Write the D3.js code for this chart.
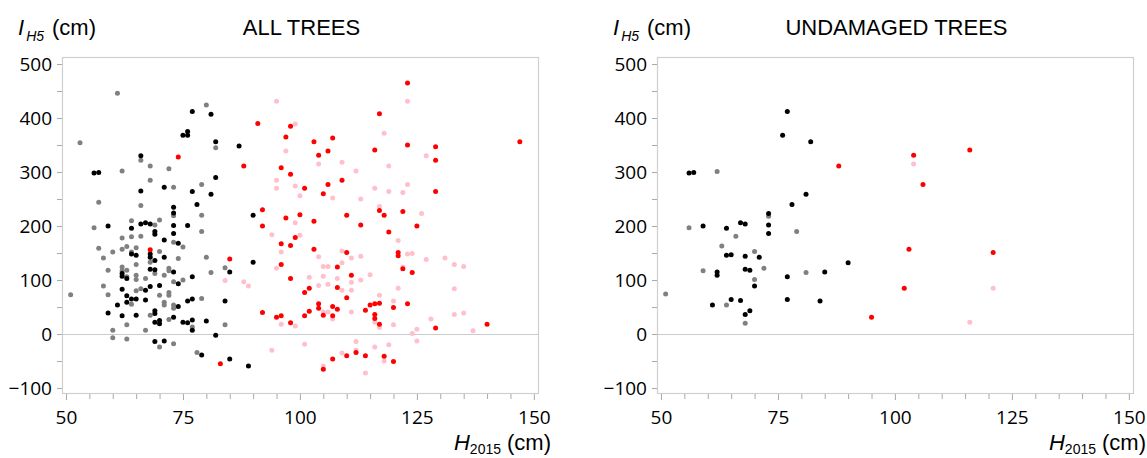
<!DOCTYPE html>
<html>
<head>
<meta charset="utf-8">
<script src="https://cdn.jsdelivr.net/npm/d3@7"></script>
<style>
  html, body { margin: 0; padding: 0; background: #fff; }
  svg { display: block; }
</style>
</head>
<body>
<svg id="chart" width="1147" height="458"></svg>
<script>
// ---------- DATA ----------
const xTicks = [50, 75, 100, 125, 150];
const yTicks = [-100, 0, 100, 200, 300, 400, 500];
const panelTitles = ["ALL TREES", "UNDAMAGED TREES"];

// ALL TREES: [H2015, IH5]
const allBlack = [[77,412],[81,407],[76,375],[75,368],[76,368],[82,356],[87,348],[66,330],[56,298],[57,299],[82,290],[71,272],[66,265],[77,264],[81,259],[73,235],[78,240],[73,224],[66,204],[67,206],[68,204],[73,201],[76,201],[59,200],[64,196],[69,190],[69,185],[73,186],[71,174],[74,168],[68,148],[68,142],[64,148],[65,146],[71,142],[69,136],[85,115],[62,112],[62,107],[63,103],[68,120],[69,119],[73,115],[77,106],[74,93],[62,83],[68,88],[67,81],[70,90],[63,71],[64,65],[65,65],[63,59],[61,54],[67,63],[76,61],[77,65],[84,61],[74,51],[69,43],[69,38],[59,39],[62,34],[65,35],[73,31],[70,25],[70,19],[69,22],[75,22],[76,21],[77,26],[77,7],[80,24],[69,-14],[71,-13],[82,-2],[79,-39],[85,-46],[90,220],[90,133],[89,-59]];
const allGray = [[61,446],[80,424],[82,345],[53,354],[66,322],[68,311],[72,306],[62,302],[68,285],[73,272],[79,277],[57,244],[66,238],[73,219],[79,220],[64,210],[70,211],[69,202],[56,197],[79,190],[62,178],[64,180],[66,181],[73,170],[75,161],[57,159],[60,152],[62,157],[63,162],[64,152],[65,160],[70,153],[58,141],[68,133],[74,140],[65,129],[80,142],[84,123],[59,118],[62,124],[62,117],[63,118],[63,106],[65,109],[65,101],[69,112],[67,103],[71,109],[72,122],[72,117],[75,100],[73,97],[81,114],[58,89],[66,84],[65,80],[51,73],[59,73],[64,55],[70,72],[72,77],[72,72],[79,66],[73,54],[73,48],[71,59],[71,54],[68,35],[72,27],[63,17],[67,7],[77,13],[84,17],[60,7],[60,-7],[63,-9],[70,-24],[73,-18],[78,-34]];
const allRed = [[74,328],[68,156],[85,139],[83,-55],[91,390],[98,385],[117,408],[97,365],[103,356],[107,363],[106,339],[104,331],[116,341],[88,311],[96,308],[98,296],[101,270],[106,277],[109,285],[105,260],[117,229],[118,220],[92,230],[97,215],[100,221],[103,209],[110,220],[113,202],[92,200],[119,189],[99,179],[96,167],[98,164],[103,157],[110,151],[96,129],[108,124],[98,103],[111,109],[108,86],[102,85],[101,77],[110,67],[104,56],[104,48],[107,51],[108,46],[105,35],[107,34],[114,44],[115,54],[116,56],[117,57],[116,36],[116,29],[117,18],[120,49],[92,40],[95,31],[96,34],[98,21],[101,34],[102,42],[110,-40],[112,-34],[114,-40],[118,-41],[120,-51],[107,-46],[105,-65],[123,465],[123,350],[129,347],[147,356],[129,322],[129,264],[122,227],[125,200],[121,151],[121,145],[122,121],[124,114],[123,56],[140,18],[129,11]];
const allPink = [[84,99],[95,431],[99,389],[118,372],[97,339],[104,315],[109,318],[112,302],[119,311],[95,285],[95,270],[99,274],[116,270],[119,264],[100,256],[107,252],[113,250],[117,236],[99,206],[94,184],[100,183],[96,152],[104,143],[109,154],[111,141],[113,144],[95,122],[105,125],[106,125],[109,132],[102,105],[105,107],[108,103],[111,96],[113,100],[115,110],[88,97],[89,89],[104,90],[106,92],[109,81],[111,81],[117,72],[120,61],[105,41],[106,41],[107,28],[111,41],[116,22],[117,12],[120,17],[96,18],[99,15],[101,-19],[94,-30],[112,-14],[109,-35],[112,-30],[116,-24],[119,-20],[118,-50],[105,-59],[114,-72],[123,431],[127,330],[123,277],[122,262],[126,223],[121,173],[123,148],[124,149],[127,138],[131,141],[133,129],[135,125],[122,124],[121,85],[133,84],[128,28],[133,36],[135,39],[125,9],[124,1],[137,6],[125,-13]];

// UNDAMAGED TREES
const undBlack = [[77,412],[76,368],[82,356],[56,298],[57,299],[81,259],[78,240],[73,223],[73,202],[73,186],[59,200],[64,196],[67,206],[68,204],[64,146],[65,147],[68,144],[71,142],[62,115],[62,109],[68,120],[69,118],[90,132],[85,115],[77,106],[70,89],[61,54],[65,64],[67,62],[77,64],[84,61],[68,36],[69,43]];
const undGray = [[62,301],[73,218],[56,197],[66,181],[79,190],[63,163],[70,153],[59,117],[72,122],[81,114],[70,101],[51,74],[64,54],[68,20]];
const undRed = [[88,311],[104,331],[116,341],[106,277],[103,157],[121,151],[102,85],[95,31]];
const undPink = [[104,315],[121,85],[116,22]];

const groupColors = ["#808080", "#000000", "#ffc0cb", "#ff0000"];

// ---------- DRAW ----------
const svg = d3.select("#chart");
const tickFont = "'Open Sans', 'DejaVu Sans', sans-serif";
const labelFont = "'Liberation Sans', Arial, sans-serif";

function drawPanel(left, title, groups) {
  const right = left + 477, top = 57, bottom = 394;
  const x = d3.scaleLinear().domain([49.15, 151.1]).range([left, right]);
  const y = d3.scaleLinear().domain([-111, 513]).range([bottom, top]);
  const g = svg.append("g");

  // frame
  g.append("rect")
    .attr("x", left + 0.5).attr("y", top + 0.5)
    .attr("width", right - left - 1).attr("height", bottom - top - 1)
    .attr("fill", "none").attr("stroke", "#cfcfcf").attr("stroke-width", 1.2);

  // zero line
  g.append("line")
    .attr("x1", left).attr("x2", right)
    .attr("y1", Math.round(y(0)) + 0.5).attr("y2", Math.round(y(0)) + 0.5)
    .attr("stroke", "#c7ccd1").attr("stroke-width", 1.2);

  // x axis minor ticks
  const xMinor = d3.range(50, 151, 5).filter(v => !xTicks.includes(v));
  const xMin = g.append("g").attr("transform", `translate(0,${bottom})`)
    .call(d3.axisBottom(x).tickValues(xMinor).tickSize(5).tickFormat(""));
  const xAx = g.append("g").attr("transform", `translate(0,${bottom})`)
    .call(d3.axisBottom(x).tickValues(xTicks).tickSize(6).tickPadding(11));
  [xMin, xAx].forEach(a => {
    a.select(".domain").remove();
    a.selectAll("line").attr("stroke", "#a8a8a8");
  });
  xAx.selectAll("text").attr("font-family", tickFont).attr("font-size", 19)
    .attr("fill", "#000");

  // y axis
  const yMinor = d3.range(-50, 501, 100);
  const yMin = g.append("g").attr("transform", `translate(${left},0)`)
    .call(d3.axisLeft(y).tickValues(yMinor).tickSize(5).tickFormat(""));
  const yAx = g.append("g").attr("transform", `translate(${left},0)`)
    .call(d3.axisLeft(y).tickValues(yTicks).tickSize(5).tickPadding(5));
  [yMin, yAx].forEach(a => {
    a.select(".domain").remove();
    a.selectAll("line").attr("stroke", "#a8a8a8");
  });
  yAx.selectAll("text").attr("font-family", tickFont).attr("font-size", 19)
    .attr("fill", "#000");

  // points
  groups.forEach((pts, i) => {
    g.append("g").selectAll("circle").data(pts).join("circle")
      .attr("cx", d => x(d[0])).attr("cy", d => y(d[1]))
      .attr("r", 2.5).attr("fill", groupColors[i]);
  });

  // title
  g.append("text").attr("x", (left + right) / 2 + 1).attr("y", 35)
    .attr("text-anchor", "middle").attr("font-family", labelFont)
    .attr("font-size", 22).attr("fill", "#000").text(title);

  // y label
  const yl = g.append("text").attr("x", left - 44).attr("y", 35)
    .attr("font-family", labelFont).attr("font-size", 22).attr("fill", "#000");
  yl.append("tspan").attr("font-style", "italic").text("I");
  yl.append("tspan").attr("font-style", "italic").attr("font-size", 14)
    .attr("dx", 2).attr("dy", 6).text("H5");
  yl.append("tspan").attr("dy", -6).attr("dx", 8).text("(cm)");

  // x label
  const xl = g.append("text").attr("x", right + 12).attr("y", 450)
    .attr("text-anchor", "end")
    .attr("font-family", labelFont).attr("font-size", 22).attr("fill", "#000");
  xl.append("tspan").attr("font-style", "italic").text("H");
  xl.append("tspan").attr("font-size", 14).attr("dy", 4).text("2015");
  xl.append("tspan").attr("dy", -4).attr("dx", 6).text("(cm)");
}

drawPanel(62, panelTitles[0], [allGray, allBlack, allPink, allRed]);
drawPanel(657, panelTitles[1], [undGray, undBlack, undPink, undRed]);
</script>
</body>
</html>
